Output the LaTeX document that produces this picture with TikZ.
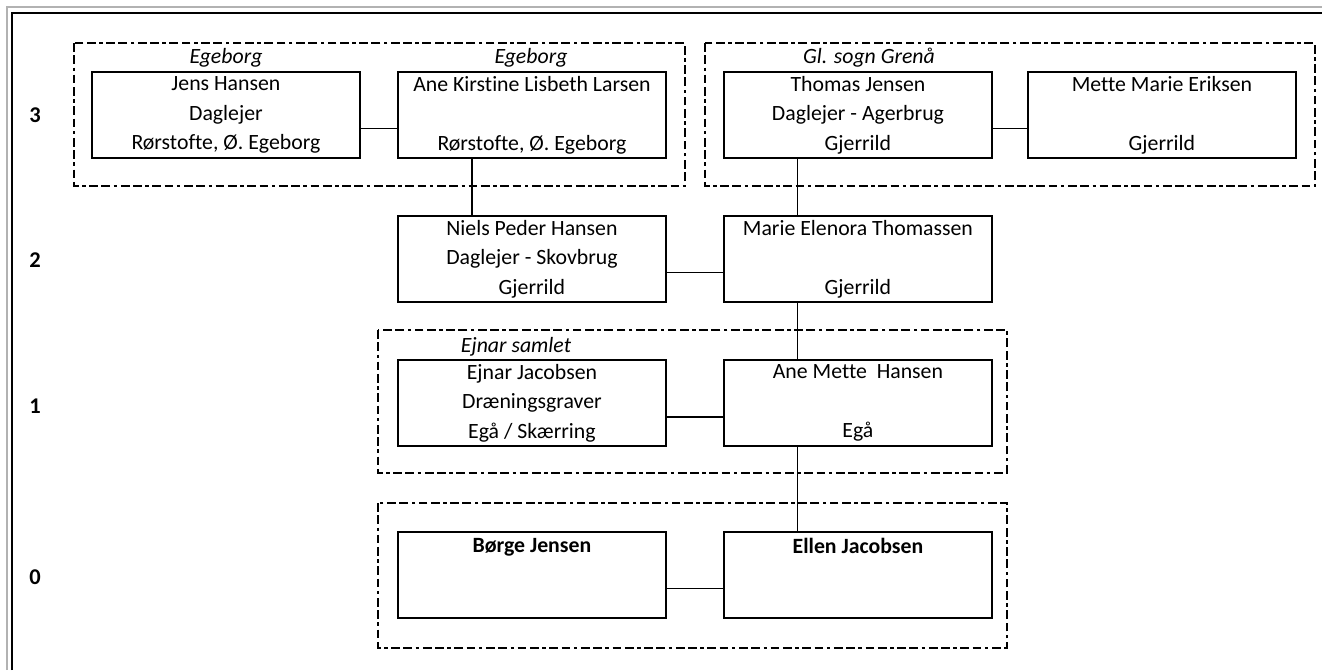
\documentclass[tikz,border=0pt]{standalone}
\usepackage{fontspec}
\setmainfont{Carlito}[Ligatures=NoCommon]

\begin{document}
\begin{tikzpicture}[x=0.02cm,y=-0.02cm,
    every node/.style={font=\fontsize{12.4}{16.8}\selectfont},
    person/.style={draw,line width=1.1pt,minimum width=5.36cm,minimum height=1.72cm,inner sep=0pt,align=center,anchor=north west,
        execute at begin node=\rule{0pt}{13pt}},
    place/.style={font=\fontsize{12.4}{16.8}\selectfont\itshape,inner sep=0pt},
    gen/.style={font=\fontsize{12.8}{16.8}\selectfont\bfseries,inner sep=0pt},
    group/.style={line width=0.6pt,dash pattern=on 5pt off 2pt on 5pt off 2pt on 2pt off 2pt},
    link/.style={line width=0.6pt},
    thicklink/.style={line width=1.1pt}]
        \useasboundingbox (0,0) rectangle (1322,670);

        % Frame
        \draw[gray!60,line width=0.6pt] (7,670) -- (7,7) -- (1322,7);
        \draw[line width=1.7pt] (12,670) -- (12,13) -- (1322,13);

        % Generations
        \node[gen] (g3) at (35,115) {3};
        \node[gen] (g2) at (35,260) {2};
        \node[gen] (g1) at (35,406) {1};
        \node[gen] (g0) at (35,577) {0};

        % Groups
        \draw[group] (74,43) rectangle (685,186);
        \draw[group] (705,43) rectangle (1315,186);
        \draw[group] (378,330) rectangle (1007,473);
        \draw[group] (378,503) rectangle (1007,648);

        % Persons
        \node[person] (jens) at (91,71) {Jens Hansen\\Daglejer\\Rørstofte, Ø. Egeborg};
        \node[person] (anek) at (397,71) {Ane Kirstine Lisbeth Larsen\\\strut\\Rørstofte, Ø. Egeborg};
        \node[person] (thomas) at (723,71) {Thomas Jensen\\Daglejer - Agerbrug\\Gjerrild};
        \node[person] (mette) at (1027,71) {Mette Marie Eriksen\\\strut\\Gjerrild};
        \node[person] (niels) at (397,215) {Niels Peder Hansen\\Daglejer - Skovbrug\\Gjerrild};
        \node[person] (marie) at (723,215) {Marie Elenora Thomassen\\\strut\\Gjerrild};
        \node[person] (ejnar) at (397,359) {Ejnar Jacobsen\\Dræningsgraver\\Egå / Skærring};
        \node[person] (anem) at (723,359) {Ane Mette\ \ Hansen\\\strut\\Egå};
        \node[person] (borge) at (397,531) {\textbf{Børge Jensen}\\~\\~};
        \node[person] (ellen) at (723,531) {\textbf{Ellen Jacobsen}\\~\\~};

        % Places
        \node[place] (pjens) at (226,58) {Egeborg};
        \node[place] (panek) at (531,58) {Egeborg};
        \node[place] (pthomas) at (869,58) {Gl. sogn Grenå};
        \node[place] (pejnar) at (516,347) {Ejnar samlet};

        % Couples
        \draw[link] ([yshift=-0.28cm]jens.east) -- ([yshift=-0.28cm]anek.west);
        \draw[link] ([yshift=-0.28cm]thomas.east) -- ([yshift=-0.28cm]mette.west);
        \draw[link] ([yshift=-0.28cm]niels.east) -- ([yshift=-0.28cm]marie.west);
        \draw[thicklink] ([yshift=-0.28cm]ejnar.east) -- ([yshift=-0.28cm]anem.west);
        \draw[link] ([yshift=-0.28cm]borge.east) -- ([yshift=-0.28cm]ellen.west);

        % Children
        \draw[thicklink] ([xshift=-1.2cm]anek.south) -- ([xshift=-1.2cm]niels.north);
        \draw[link] ([xshift=-1.2cm]thomas.south) -- ([xshift=-1.2cm]marie.north);
        \draw[link] ([xshift=-1.2cm]marie.south) -- ([xshift=-1.2cm]anem.north);
        \draw[link] ([xshift=-1.2cm]anem.south) -- ([xshift=-1.2cm]ellen.north);
\end{tikzpicture}
\end{document}
